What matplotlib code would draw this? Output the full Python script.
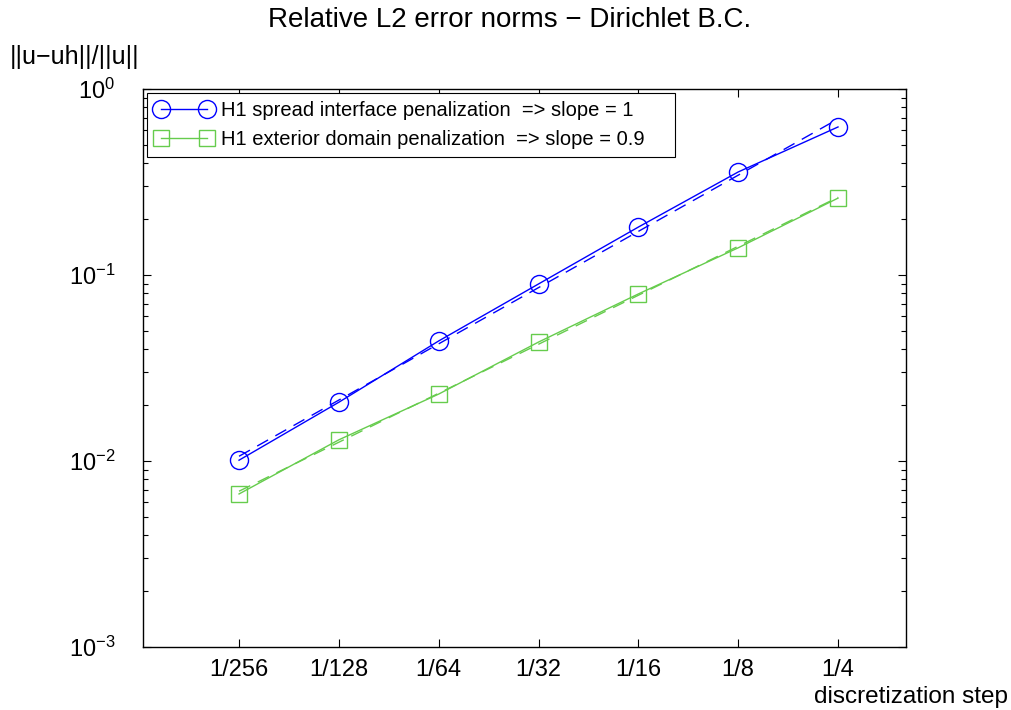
import numpy as np
import matplotlib
matplotlib.use("Agg")
from matplotlib import pyplot as plt
from matplotlib.ticker import FixedLocator, FixedFormatter, LogLocator, NullFormatter

plt.rcParams['font.family'] = ['Liberation Sans', 'DejaVu Sans']
plt.rcParams['mathtext.fontset'] = 'custom'
plt.rcParams['mathtext.rm'] = 'Liberation Sans'

# discretization steps and relative L2 errors
h = [1/256, 1/128, 1/64, 1/32, 1/16, 1/8, 1/4]
h_labels = ["1/256", "1/128", "1/64", "1/32", "1/16", "1/8", "1/4"]
err_spread = [0.0101, 0.0207, 0.0442, 0.0895, 0.181, 0.358, 0.625]
err_exterior = [0.00665, 0.0130, 0.0229, 0.0436, 0.0791, 0.140, 0.259]

blue = (0.0, 0.0, 1.0)
green = (0.4, 0.8, 0.3)

fig = plt.figure(figsize=(10.12, 7.10), dpi=100)
ax = fig.add_axes([143/1012, 1 - 647/710, (906-143)/1012, (647-89)/710])

def fit(x, y):
    p = np.polyfit(np.log(x), np.log(y), 1)
    return np.exp(np.polyval(p, np.log(x)))

ax.plot(h, err_spread, '-o', color=blue, mfc='none', ms=13, lw=1,
        label="H1 spread interface penalization  => slope = 1     ")
ax.plot(h, err_exterior, '-s', color=green, mfc='none', ms=11, lw=1,
        label="H1 exterior domain penalization  => slope = 0.9    ")
ax.plot(h, fit(h, err_spread), '--', color=blue, lw=1, dashes=(9, 6))
ax.plot(h, fit(h, err_exterior), '--', color=green, lw=1, dashes=(9, 6))

ax.set_xscale('log', base=2)
ax.set_yscale('log')
ax.set_xlim(2**-8.962, 2**-1.319)
ax.set_ylim(1e-3, 1e0)

ax.xaxis.set_major_locator(FixedLocator(h))
ax.xaxis.set_major_formatter(FixedFormatter(h_labels))
ax.xaxis.set_minor_locator(FixedLocator([]))
ax.yaxis.set_major_locator(LogLocator(base=10, numticks=10))
ax.yaxis.set_minor_locator(LogLocator(base=10, subs=np.arange(2, 10), numticks=10))
ax.yaxis.set_minor_formatter(NullFormatter())

ax.tick_params(which='both', direction='in', top=True, right=True, labelsize=17)
ax.tick_params(which='major', length=6, width=0.8)
ax.tick_params(which='minor', length=3.5, width=0.8)
ax.tick_params(axis='x', pad=9)
ax.tick_params(axis='y', pad=20)
for s in ax.spines.values():
    s.set_linewidth(1)

leg = ax.legend(loc='upper left', numpoints=2, fontsize=14.5, fancybox=False,
                edgecolor='black', framealpha=1, handlelength=2.9,
                borderaxespad=0.2, borderpad=0.4, labelspacing=0.5,
                handletextpad=0.35)
leg.get_frame().set_linewidth(0.8)

fig.text(510/1012, 1 - 20/710, "Relative L2 error norms \u2212 Dirichlet B.C.",
         ha='center', va='center', fontsize=20)
fig.text(75/1012, 1 - 57/710, "||u\u2212uh||/||u||", ha='center', va='center', fontsize=18)
fig.text(1008/1012, 1 - 703/710, "discretization step", ha='right', va='baseline', fontsize=17.5)

fig.savefig("out.png", dpi=100)
